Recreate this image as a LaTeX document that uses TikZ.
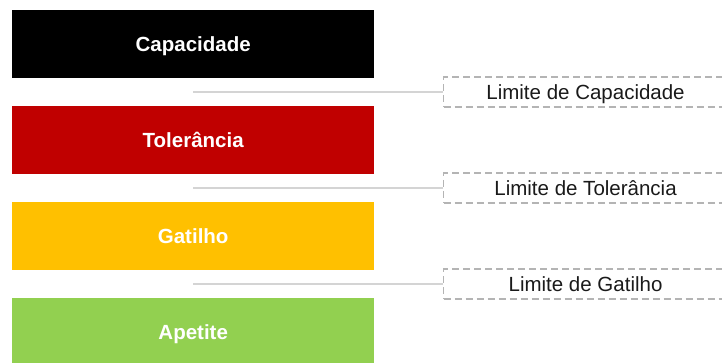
\documentclass[tikz,border=0pt]{standalone}
\usepackage{fontspec}
\setmainfont{Liberation Sans}
\usetikzlibrary{positioning}
\definecolor{capcol}{HTML}{000000}
\definecolor{tolcol}{HTML}{C00000}
\definecolor{gatcol}{HTML}{FFC000}
\definecolor{apecol}{HTML}{92D050}
\definecolor{linecol}{HTML}{D4D4D4}
\definecolor{dashcol}{HTML}{B4B4B4}
\definecolor{txtcol}{HTML}{1A1A1A}
\begin{document}
\begin{tikzpicture}[
    x=1pt,y=-1pt,
    band/.style={rectangle, anchor=north west, minimum width=362pt, minimum height=68pt,
      inner sep=0pt, text height=14.7pt, text depth=0pt, text=white,
      font=\fontsize{20.5}{24}\selectfont\bfseries},
    limbox/.style={rectangle, draw=dashcol, line width=1.1pt, dash pattern=on 7pt off 4pt,
      anchor=west, minimum width=284pt, minimum height=30pt, inner sep=0pt,
      text height=14.7pt, text depth=0pt, text=txtcol, font=\fontsize{20.5}{24}\selectfont},
    limline/.style={draw=linecol, line width=1.6pt}
    ]
	\clip (0,0) rectangle (722,363);
	\useasboundingbox (0,0) rectangle (722,363);
	% faixas
	\node [band, fill=capcol] (capacidade) at (12,10) {Capacidade};
	\node [band, fill=tolcol] (tolerancia) at (12,106) {Tolerância};
	\node [band, fill=gatcol] (gatilho) at (12,202) {Gatilho};
	\node [band, fill=apecol] (apetite) at (12,298) {Apetite};
	% limites
	\node [limbox] (limCap) at (443,92) {Limite de Capacidade};
	\node [limbox] (limTol) at (443,188) {Limite de Tolerância};
	\node [limbox] (limGat) at (443,284) {Limite de Gatilho};
	\coordinate (c1) at (193,92);
	\coordinate (c2) at (193,188);
	\coordinate (c3) at (193,284);
	\draw [limline] (c1) -- (limCap.west);
	\draw [limline] (c2) -- (limTol.west);
	\draw [limline] (c3) -- (limGat.west);
\end{tikzpicture}
\end{document}
